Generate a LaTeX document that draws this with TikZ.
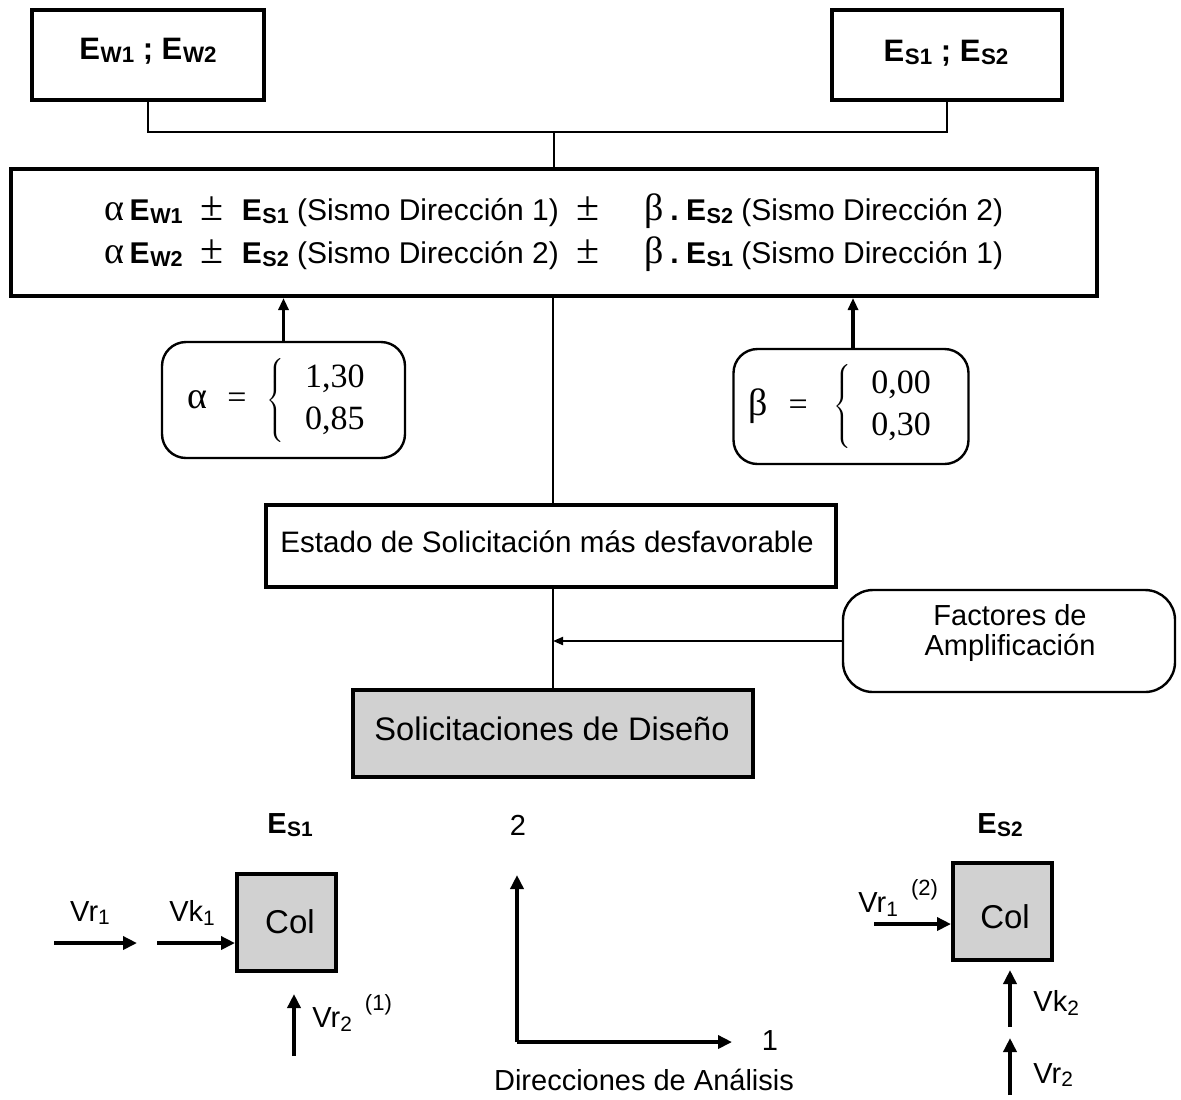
\documentclass[tikz,border=0pt]{standalone}
\usepackage{fontspec}
\setmainfont{Liberation Sans}
\newfontfamily\tms{Liberation Serif}
\usetikzlibrary{arrows.meta,calc}
% capital letter followed by a small lowered index, as in E_{W1}
\newcommand\Esub[2]{#1\kern0.02em\raisebox{-0.12em}{\scalebox{0.72}{#2}}}
% small lowered index only
\newcommand\ix[1]{\raisebox{-0.12em}{\scalebox{0.72}{#1}}}
% small raised note mark
\newcommand\note[1]{\hspace{0.45em}\raisebox{0.6em}{\scalebox{0.76}{#1}}}
\newcommand\spm{{\tms\fontsize{21}{21}\selectfont ±}}
\newcommand\grk[1]{{\tms\fontsize{19}{19}\selectfont #1}}
\begin{document}
\begin{tikzpicture}[x=0.5pt,y=-0.5pt,
  thickbox/.style={draw, line width=2pt, inner sep=0pt},
  roundbox/.style={draw, line width=1.2pt, rounded corners=12pt, inner sep=0pt},
  link/.style={line width=1pt},
  bigarrow/.style={line width=2.2pt, -{Triangle[length=7pt,width=6.5pt]}},
  smallarrow/.style={line width=1pt, -{Triangle[length=5pt,width=4pt]}},
  upperarrow/.style={line width=1.8pt, -{Triangle[length=6pt,width=5pt]}},
  lbl/.style={font=\fontsize{14.5}{16}\selectfont, inner sep=0pt},
  shaded/.style={fill=black!18}]
\useasboundingbox (0,0) rectangle (1181,1099);

% load cases
\node[thickbox, minimum width=116pt, minimum height=45pt] (ew) at (148,55) {};
\node[lbl, font=\bfseries\fontsize{15.5}{17}\selectfont] (ewl) at (148,51)
     {\Esub{E}{W1} ; \Esub{E}{W2}};
\node[thickbox, minimum width=115pt, minimum height=45pt] (es) at (947,55) {};
\node[lbl, font=\bfseries\fontsize{15.5}{17}\selectfont] (esl) at (946,53)
     {\Esub{E}{S1} ; \Esub{E}{S2}};

% combinations
\node[thickbox, minimum width=543pt, minimum height=63.5pt, align=left,
      font=\fontsize{15}{21.5}\selectfont] (form) at (554,232.5)
 {\grk{α}\,\textbf{\Esub{E}{W1}}\hspace{0.6em}\spm\hspace{0.6em}\textbf{\Esub{E}{S1}} (Sismo Dirección 1)\hspace{0.6em}\spm\hspace{1.5em}\grk{β}\hspace{0.2em}\textbf{.}\hspace{0.25em}\textbf{\Esub{E}{S2}} (Sismo Dirección 2)\\
  \grk{α}\,\textbf{\Esub{E}{W2}}\hspace{0.6em}\spm\hspace{0.6em}\textbf{\Esub{E}{S2}} (Sismo Dirección 2)\hspace{0.6em}\spm\hspace{1.5em}\grk{β}\hspace{0.2em}\textbf{.}\hspace{0.25em}\textbf{\Esub{E}{S1}} (Sismo Dirección 1)};

\coordinate (j) at (554,132);
\draw[link] (ew.south) |- (j) -| (es.south);
\draw[link] (j) -- (form.north);

% coefficients (the closing kern keeps the formula a little left of centre)
\node[roundbox, minimum width=121.5pt, minimum height=58pt,
      font=\tms\fontsize{17}{21}\selectfont] (alpha) at (283.5,400)
     {\grk{α}\hspace{0.6em}=\hspace{0.6em}$\left\{\hspace{0.6em}\begin{tabular}{@{}l@{}}1,30\\0,85\end{tabular}\right.$\kern6.5pt};
\node[roundbox, minimum width=117.5pt, minimum height=57.5pt,
      font=\tms\fontsize{17}{21}\selectfont] (beta) at (851,406.5)
     {\grk{β}\hspace{0.6em}=\hspace{0.75em}$\left\{\hspace{0.6em}\begin{tabular}{@{}l@{}}0,00\\0,30\end{tabular}\right.$\kern10pt};
\draw[upperarrow] (alpha.north) -- (alpha.north |- form.south);
\draw[upperarrow] ($(beta.north)+(2,0)$) -- ($(beta.north |- form.south)+(2,0)$);

% result chain
\node[thickbox, minimum width=285pt, minimum height=41pt] (estado) at (551,546) {};
\node[lbl, font=\fontsize{14.8}{16}\selectfont] (estl) at (547,542)
     {Estado de Solicitación más desfavorable};
\node[thickbox, shaded, minimum width=200pt, minimum height=43.5pt] (sol) at (553,733.5) {};
\node[lbl, font=\fontsize{16.3}{18}\selectfont] (soll) at (552,729)
     {Solicitaciones de Diseño};
\node[roundbox, rounded corners=15pt, minimum width=166pt, minimum height=51pt] (fac) at (1009,641) {};
\node[lbl, align=center, font=\fontsize{14.5}{15}\selectfont] (facl) at (1010,633)
     {Factores de\\Amplificación};
\draw[link] (form.south -| sol.north) -- (estado.north -| sol.north);
\draw[link] (estado.south -| sol.north) -- (sol.north);
\draw[smallarrow] (fac.west) -- (fac.west -| sol.north);

% column under seismic direction 1
\node[lbl, font=\bfseries\fontsize{14.5}{16}\selectfont] (es1) at (290,825) {\Esub{E}{S1}};
\node[thickbox, shaded, minimum width=49.5pt, minimum height=48.5pt] (col1) at (286.5,922.5) {};
\node[lbl, font=\fontsize{16.5}{18}\selectfont] (col1l) at (290,922) {Col};
\coordinate (vr1a) at (54,943);
\coordinate (vr1b) at (137,943);
\coordinate (vk1a) at (157,943);
\coordinate (vr2a) at (294,1056);
\coordinate (vr2b) at (294,994);
\draw[bigarrow] (vr1a) -- (vr1b);
\draw[bigarrow] (vk1a) -- (vk1a -| col1.west);
\draw[bigarrow] (vr2a) -- (vr2b);
\node[lbl] (lvr1) at (90,913) {Vr\ix{1}};
\node[lbl] (lvk1) at (192,913) {Vk\ix{1}};
\node[lbl, anchor=west] (lvr2) at (312,1013) {Vr\ix{2}\note{(1)}};

% analysis directions
\coordinate (o) at (517,1042);
\coordinate (d2) at (517,875);
\coordinate (d1) at (732,1042);
\draw[bigarrow] (o) -- (d2);
\draw[bigarrow] (o) -- (d1);
\node[lbl] (n2) at (518,825) {2};
\node[lbl] (n1) at (770,1040) {1};
\node[lbl] (dir) at (644,1080) {Direcciones de Análisis};

% column under seismic direction 2
\node[lbl, font=\bfseries\fontsize{14.5}{16}\selectfont] (es2) at (1000,825) {\Esub{E}{S2}};
\node[thickbox, shaded, minimum width=49.5pt, minimum height=48.5pt] (col2) at (1002.5,911.5) {};
\node[lbl, font=\fontsize{16.5}{18}\selectfont] (col2l) at (1005,917) {Col};
\coordinate (w1a) at (874,924);
\coordinate (vk2a) at (1010,1027);
\coordinate (vk2b) at (1010,970);
\coordinate (w2a) at (1010,1095);
\coordinate (w2b) at (1010,1038);
\draw[bigarrow] (w1a) -- (w1a -| col2.west);
\draw[bigarrow] (vk2a) -- (vk2b);
\draw[bigarrow] (w2a) -- (w2b);
\node[lbl, anchor=west] (lw1) at (858,898) {Vr\ix{1}\note{(2)}};
\node[lbl, anchor=west] (lvk2) at (1033,1003) {Vk\ix{2}};
\node[lbl, anchor=west] (lw2) at (1033,1075) {Vr\ix{2}};
\end{tikzpicture}
\end{document}
